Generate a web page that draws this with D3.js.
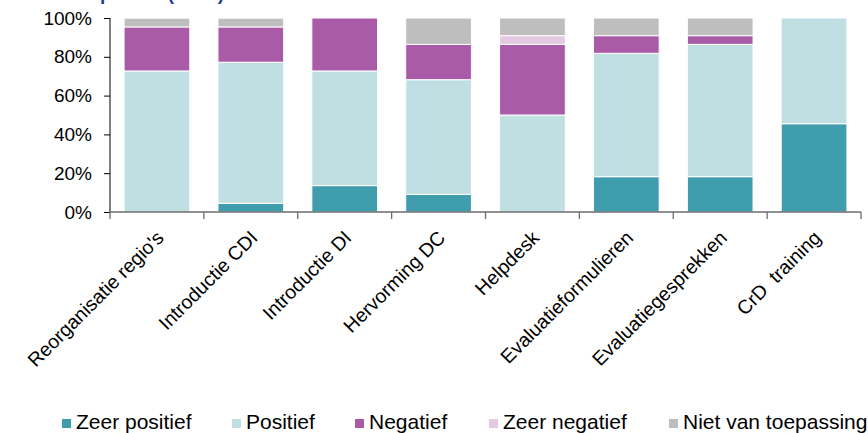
<!DOCTYPE html>
<html>
<head>
<meta charset="utf-8">
<script src="https://cdn.jsdelivr.net/npm/d3@7"></script>
<style>
  body { margin: 0; background: #fff; }
  svg { display: block; font-family: "Liberation Sans", Arial, sans-serif; }
  .lbl { white-space: pre; }
</style>
</head>
<body>
<svg id="chart" width="868" height="433"></svg>
<script>
// categories and series (percentages, n = 22)
const categories = ["Reorganisatie regio's", "Introductie CDI", "Introductie DI", "Hervorming DC",
                    "Helpdesk", "Evaluatieformulieren", "Evaluatiegesprekken", "CrD  training"]
const seriesNames = ["Zeer positief", "Positief", "Negatief", "Zeer negatief", "Niet van toepassing"]
const zeerPositief = [0, 4.5, 13.6, 9.1, 0, 18.2, 18.2, 45.5]
const positief     = [72.7, 72.7, 59.1, 59.1, 50, 63.6, 68.2, 54.5]
const negatief     = [22.7, 18.2, 27.3, 18.2, 36.4, 9.1, 4.5, 0]
const zeerNegatief = [0, 0, 0, 0, 4.5, 0, 0, 0]
const nietVanToep  = [4.5, 4.5, 0, 13.6, 9.1, 9.1, 9.1, 0]
const yTicks = [0, 20, 40, 60, 80, 100]
const colors = ["#409dae", "#c0dfe3", "#a95ba7", "#e5c9e3", "#bebebe"]

const seriesValues = [zeerPositief, positief, negatief, zeerNegatief, nietVanToep]
const table = categories.map(function(c, i) {
  const row = { cat: c }
  seriesNames.forEach(function(s, k) { row[s] = seriesValues[k][i] })
  return row
})

const svg = d3.select("#chart")
const mLeft = 110, mRight = 861, mTop = 18, mBottom = 212

const x = d3.scaleBand().domain(categories).range([mLeft, mRight]).paddingInner(0.3).paddingOuter(0.15)
const y = d3.scaleLinear().domain([0, 100]).range([mBottom, mTop])

// title, mostly cut off above the picture (as in the original)
svg.append("text")
  .attr("x", 23).attr("y", 0)
  .attr("font-size", "19px").attr("font-weight", "bold")
  .attr("fill", "#1f3d99")
  .text("Oordeel per CD (n=22)")

const stack = d3.stack().keys(seriesNames)(table)

svg.append("g").selectAll("g")
  .data(stack)
  .enter().append("g")
  .attr("fill", function(d, i) { return colors[i] })
  .selectAll("rect")
  .data(function(d) { return d.filter(function(p) { return p[1] - p[0] > 0 }) })
  .enter().append("rect")
  .attr("x", function(d) { return x(d.data.cat) })
  .attr("width", x.bandwidth())
  .attr("y", function(d) { return y(d[1]) })
  .attr("height", function(d) { return y(d[0]) - y(d[1]) })
  .attr("stroke", "#fff")
  .attr("stroke-width", 1)

// y axis
const yAxis = svg.append("g")
  .attr("transform", "translate(" + mLeft + ",0)")
  .call(d3.axisLeft(y).tickValues(yTicks).tickSize(6).tickPadding(12).tickFormat(function(d) { return d + "%" }))
yAxis.select(".domain").attr("d", "M0," + mTop + "V" + mBottom).attr("stroke", "#000")
yAxis.selectAll(".tick line").attr("stroke", "#000")
yAxis.selectAll("text").attr("font-size", "19px").attr("fill", "#000").attr("font-family", null)

// x axis with ticks at category boundaries
const bounds = d3.range(categories.length + 1).map(function(i) { return mLeft + i * (mRight - mLeft) / categories.length })
const xg = svg.append("g")
xg.append("line").attr("x1", mLeft).attr("x2", mRight).attr("y1", mBottom).attr("y2", mBottom)
  .attr("stroke", "#6b6b6b").attr("stroke-width", 1.3)
xg.selectAll(".tk").data(bounds).enter().append("line")
  .attr("x1", function(d) { return d }).attr("x2", function(d) { return d })
  .attr("y1", mBottom).attr("y2", mBottom + 7)
  .attr("stroke", "#6b6b6b").attr("stroke-width", 1.3)

xg.selectAll(".lbl").data(categories).enter().append("text")
  .attr("class", "lbl")
  .attr("transform", function(d) {
    return "translate(" + (x(d) + x.bandwidth() / 2 + 8) + "," + (mBottom + 27) + ") rotate(-45)"
  })
  .attr("text-anchor", "end")
  .attr("font-size", "19.5px")
  .attr("fill", "#000")
  .text(function(d) { return d })

// legend
const legendX = [62, 232, 355, 489, 669]
const lg = svg.append("g").selectAll("g")
  .data(seriesNames).enter().append("g")
  .attr("transform", function(d, i) { return "translate(" + legendX[i] + ",419)" })
lg.append("rect").attr("width", 9).attr("height", 9).attr("fill", function(d, i) { return colors[i] })
lg.append("text").attr("x", 14).attr("y", 9.5).attr("font-size", "21px").attr("fill", "#000")
  .text(function(d) { return d })
</script>
</body>
</html>
